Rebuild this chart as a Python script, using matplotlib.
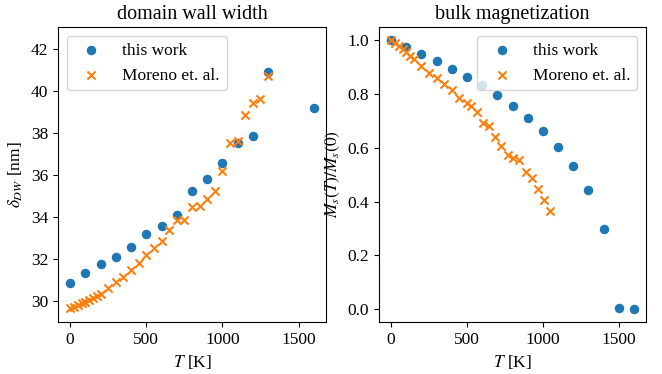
import matplotlib
matplotlib.use("Agg")
import matplotlib.pyplot as plt

plt.rcParams['font.family'] = ['Liberation Serif', 'DejaVu Serif']
plt.rcParams['mathtext.fontset'] = 'stix'
plt.rcParams['font.size'] = 12.5

# domain wall width, this work
T_dw = [0, 100, 200, 300, 400, 500, 600, 700, 800, 900, 1000, 1100, 1200, 1300, 1600]
dw = [30.86, 31.31, 31.73, 32.07, 32.55, 33.18, 33.58, 34.09, 35.25, 35.82,
      36.56, 37.51, 37.86, 40.93, 39.22]

# domain wall width, Moreno et. al.
T_dw_ref = [0, 25, 50, 75, 100, 125, 150, 175, 200, 250, 300, 350, 400, 450, 500,
            550, 600, 650, 700, 750, 800, 850, 900, 950, 1000, 1050, 1100, 1150,
            1200, 1250, 1300]
dw_ref = [29.64, 29.72, 29.80, 29.87, 29.95, 30.04, 30.12, 30.22, 30.34, 30.60,
          30.89, 31.15, 31.45, 31.78, 32.17, 32.52, 32.86, 33.39, 33.83, 33.84,
          34.47, 34.54, 34.83, 35.25, 36.19, 37.53, 37.63, 38.87, 39.42, 39.64,
          40.74]

# bulk magnetization, this work
T_ms = [0, 100, 200, 300, 400, 500, 600, 700, 800, 900, 1000, 1100, 1200, 1300,
        1400, 1500, 1600]
ms = [1.0, 0.975, 0.95, 0.924, 0.895, 0.864, 0.833, 0.795, 0.756, 0.711, 0.6625,
      0.604, 0.5325, 0.4425, 0.299, 0.006, 0.002]

# bulk magnetization, Moreno et. al.
T_ms_ref = [0, 25, 50, 75, 100, 125, 150, 200, 250, 300, 350, 400, 450, 500, 525,
            566, 607, 645, 685, 725, 770, 803, 843, 890, 925, 968, 1010, 1046]
ms_ref = [1.0, 0.99, 0.979, 0.968, 0.955, 0.942, 0.93, 0.905, 0.88, 0.86, 0.838,
          0.815, 0.787, 0.766, 0.755, 0.733, 0.693, 0.681, 0.639, 0.607, 0.575,
          0.564, 0.554, 0.512, 0.489, 0.448, 0.407, 0.364]

fig, (ax1, ax2) = plt.subplots(1, 2, figsize=(6.62, 3.74), dpi=100)
ax1.set_position([0.0876, 0.139, 0.4924 - 0.0876, 0.928 - 0.139])
ax2.set_position([0.5725, 0.139, 0.976 - 0.5725, 0.928 - 0.139])

ax1.scatter(T_dw, dw, s=34, color='tab:blue', label='this work')
ax1.scatter(T_dw_ref, dw_ref, s=34, marker='x', color='tab:orange', label='Moreno et. al.')
ax1.set_ylim(28.98, 43.07)
ax1.set_title('domain wall width', fontsize=14.5)
ax1.set_xlabel(r'$T$ [K]')
ax1.set_ylabel(r'$\delta_{DW}$ [nm]')
ax1.legend(loc='upper left')

ax2.scatter(T_ms, ms, s=34, color='tab:blue', label='this work')
ax2.scatter(T_ms_ref, ms_ref, s=34, marker='x', color='tab:orange', label='Moreno et. al.')
ax2.set_title('bulk magnetization', fontsize=14.5)
ax2.set_xlabel(r'$T$ [K]')
ax2.set_ylabel(r'$M_s(T)/M_s(0)$')
ax2.legend(loc='upper right')

plt.savefig('out.png')
